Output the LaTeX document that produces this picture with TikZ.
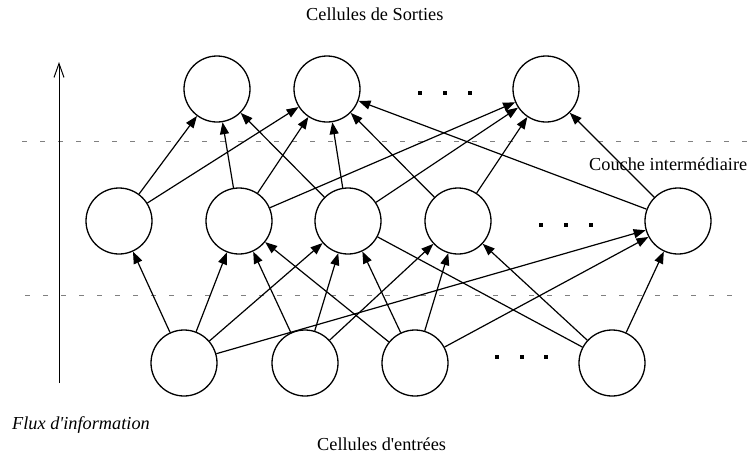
\documentclass[tikz,border=0pt]{standalone}
\usepackage{fontspec}
\setmainfont{Liberation Serif}[Ligatures=TeXOff]
\usetikzlibrary{arrows.meta}
\begin{document}
\begin{tikzpicture}[x=1pt,y=-1pt,
 neuron/.style={circle,draw,line width=1.3pt,minimum size=66pt,inner sep=0pt},
 link/.style={line width=1.2pt,-{Triangle[length=12pt,width=9pt]}},
 plainlink/.style={line width=1.2pt},
 dotmark/.style={rectangle,fill=black,minimum size=4.5pt,inner sep=0pt},
 layer/.style={draw=gray,line width=0.9pt,dash pattern=on 5pt off 13pt},
 flow/.style={line width=1pt,-{Straight Barb[length=14pt,width=10pt,line width=1pt]}},
 lbl/.style={font=\fontsize{18.3}{22}\selectfont,inner sep=0pt,anchor=base west}]
\useasboundingbox (0,0) rectangle (748,453);
% layer separators
\coordinate (ua) at (22,141); \coordinate (ub) at (752,141);
\coordinate (la) at (25,295); \coordinate (lb) at (736,295);
\draw[layer] (ua) -- (ub);
\draw[layer] (la) -- (lb);
% information flow arrow
\coordinate (fb) at (59,383); \coordinate (ft) at (59,62);
\draw[flow] (fb) -- (ft);
% neurons
\node[neuron] (o1) at (217,89) {};
\node[neuron] (o2) at (327,89) {};
\node[neuron] (o3) at (546,89) {};
\node[neuron] (h1) at (119,221) {};
\node[neuron] (h2) at (239,221) {};
\node[neuron] (h3) at (348,221) {};
\node[neuron] (h4) at (458,221) {};
\node[neuron] (h5) at (678,221) {};
\node[neuron] (i1) at (184,363) {};
\node[neuron] (i2) at (305,363) {};
\node[neuron] (i3) at (415,363) {};
\node[neuron] (i4) at (612,363) {};
% ellipsis marks
\node[dotmark] (ta) at (420,93) {};
\node[dotmark] (tb) at (445,93) {};
\node[dotmark] (tc) at (470,93) {};
\node[dotmark] (ma) at (541,225) {};
\node[dotmark] (mb) at (566,225) {};
\node[dotmark] (mc) at (591,225) {};
\node[dotmark] (ba) at (497,357) {};
\node[dotmark] (bb) at (522,357) {};
\node[dotmark] (bc) at (546,357) {};
% hidden -> output
\foreach \a/\b in {h1/o1,h1/o2,h2/o1,h2/o2,h2/o3,h3/o1,h3/o2,h3/o3,h4/o2,h4/o3,h5/o2,h5/o3}
  \draw[link] (\a) -- (\b);
% input -> hidden
\foreach \a/\b in {i1/h1,i1/h2,i1/h3,i1/h5,i2/h2,i2/h3,i2/h4,i3/h2,i3/h3,i3/h4,i3/h5,i4/h4,i4/h5}
  \draw[link] (\a) -- (\b);
\draw[plainlink] (h3) -- (i4);
% labels
\node[lbl] (tsort) at (306,20.7) {Cellules de Sorties};
\node[lbl] (tmid) at (589,170.7) {Couche intermédiaire};
\node[lbl] (tflux) at (12,429) {\itshape Flux d'information};
\node[lbl] (tent) at (317,450) {Cellules d'entrées};
\end{tikzpicture}
\end{document}
